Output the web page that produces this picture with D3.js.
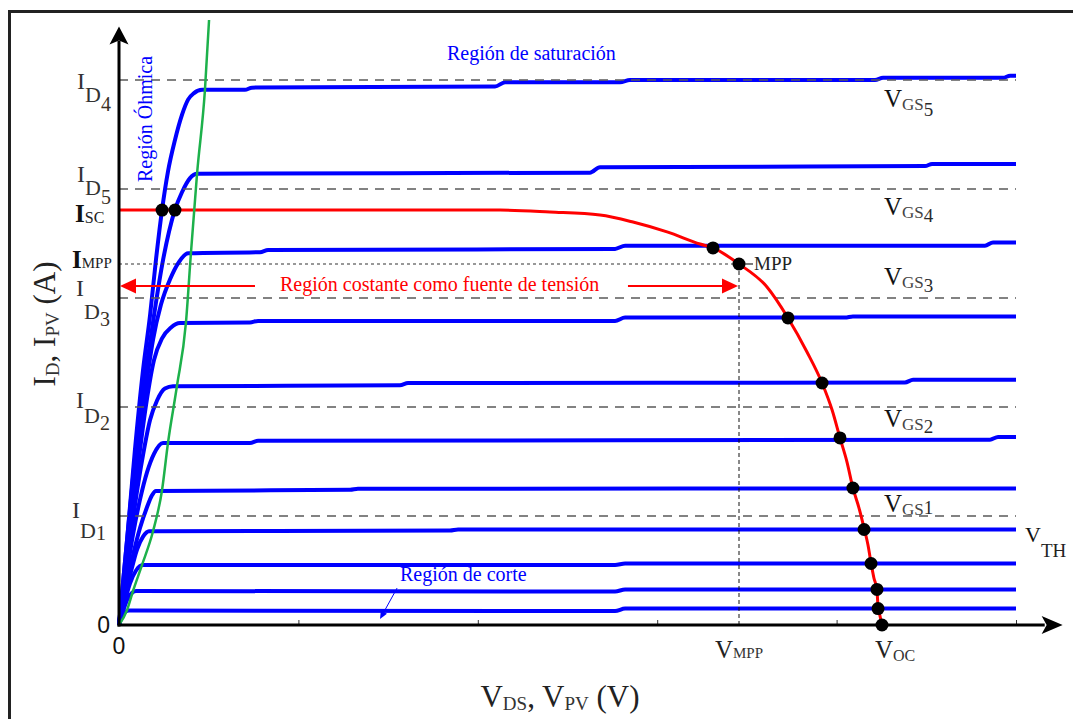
<!DOCTYPE html>
<meta charset="utf-8">
<script src="https://d3js.org/d3.v7.min.js"></script>
<style>body { margin: 0; background: #fff; }</style>
<div id="my_dataviz"></div>
<script>

// ---- data (V in axis units, I in units of the I_D spacing) ----
var xTicks = [1, 2, 3, 4, 5];
var idLevels = [1, 2, 3, 4, 5];
var idSubs = ["1", "2", "3", "5", "4"];
var vgsNames = ["5", "4", "3", "2", "1"];
var vgsLabelI = [4.75, 3.76, 3.12, 1.82, 1.04];

var iSc = 3.807, iMpp = 3.312, vMpp = 3.456, vOc = 4.253;

// MOSFET output curves, one per V_GS step
var outputCurves = [
  [[0,0],[0.045,0.78],[0.089,1.61],[0.134,2.34],[0.173,2.84],[0.206,3.35],[0.240,3.81],[0.273,4.16],[0.312,4.45],[0.351,4.68],[0.385,4.82],[0.418,4.88],[0.463,4.91],[0.702,4.91],[0.741,4.93],[2.096,4.94],[2.152,4.98],[2.793,4.98],[2.848,5.00],[4.214,5.00],[4.259,5.02],[4.928,5.02],[4.967,5.04],[5,5.04]],
  [[0,0],[0.050,0.87],[0.100,1.70],[0.151,2.34],[0.195,2.84],[0.240,3.30],[0.279,3.61],[0.312,3.81],[0.351,3.97],[0.396,4.10],[0.435,4.14],[2.625,4.15],[2.681,4.20],[4.493,4.21],[4.532,4.23],[5,4.23]],
  [[0,0],[0.050,0.73],[0.100,1.47],[0.145,2.11],[0.190,2.62],[0.234,2.94],[0.284,3.17],[0.334,3.33],[0.385,3.41],[0.786,3.42],[0.831,3.44],[2.765,3.45],[2.821,3.48],[4.827,3.48],[4.872,3.51],[5,3.51]],
  [[0,0],[0.050,0.69],[0.100,1.38],[0.151,2.02],[0.195,2.43],[0.240,2.63],[0.290,2.73],[0.340,2.77],[0.730,2.775],[0.775,2.79],[2.765,2.79],[2.821,2.82],[4.047,2.82],[4.091,2.83],[5,2.83]],
  [[0,0],[0.045,0.55],[0.089,1.10],[0.134,1.56],[0.173,1.88],[0.212,2.06],[0.256,2.17],[0.301,2.19],[1.566,2.20],[1.611,2.22],[4.381,2.225],[4.426,2.25],[5,2.25]],
  [[0,0],[0.039,0.43],[0.078,0.83],[0.117,1.15],[0.156,1.40],[0.195,1.57],[0.245,1.67],[0.730,1.67],[0.775,1.69],[4.855,1.70],[4.900,1.725],[5,1.725]],
  [[0,0],[0.039,0.34],[0.078,0.64],[0.117,0.89],[0.156,1.08],[0.184,1.19],[0.206,1.23],[1.288,1.24],[1.332,1.25],[5,1.252]],
  [[0,0],[0.033,0.25],[0.067,0.49],[0.100,0.69],[0.134,0.81],[0.167,0.86],[1.845,0.867],[1.890,0.876],[5,0.876]],
  [[0,0],[0.028,0.19],[0.061,0.38],[0.095,0.50],[0.134,0.55],[2.765,0.55],[2.821,0.564],[5,0.564]],
  [[0,0],[0.028,0.156],[0.050,0.248],[0.072,0.294],[0.095,0.312],[2.765,0.307],[2.821,0.326],[5,0.326]],
  [[0,0],[0.017,0.083],[0.033,0.119],[0.056,0.133],[2.765,0.128],[2.821,0.151],[5,0.151]]
];

// PV panel I-V curve
var pvCurve = [[0,3.807],[2.124,3.807],[2.402,3.789],[2.681,3.761],[2.865,3.697],[3.055,3.606],[3.239,3.495],[3.311,3.459],[3.456,3.312],[3.612,3.101],[3.729,2.817],[3.835,2.505],[3.919,2.220],[3.975,1.972],[4.019,1.716],[4.058,1.495],[4.091,1.257],[4.125,1.073],[4.153,0.890],[4.175,0.734],[4.192,0.569],[4.208,0.431],[4.225,0.321],[4.231,0.165],[4.242,0.083],[4.253,0]];

// operating points (PV curve crossing the output curves)
var opPoints = [[0.240,3.807],[0.312,3.807],[3.311,3.459],[3.456,3.312],[3.729,2.817],[3.919,2.220],[4.019,1.716],[4.091,1.257],[4.153,0.876],[4.192,0.564],[4.225,0.326],[4.231,0.151],[4.253,0]];

// ohmic / saturation border
var ohmicBorder = [[0,0],[0.045,0.138],[0.078,0.312],[0.128,0.550],[0.190,0.862],[0.240,1.239],[0.273,1.670],[0.323,2.193],[0.373,2.771],[0.401,3.413],[0.435,4.138],[0.479,4.908],[0.502,5.55]];

// ---- setup ----
var W = 1073, H = 719;
var serif = "'Liberation Serif','Times New Roman',serif";

var svg = d3.select("#my_dataviz")
  .append("svg")
    .attr("width", W)
    .attr("height", H);

var x = d3.scaleLinear().domain([0, 5]).range([119, 1016]);
var y = d3.scaleLinear().domain([0, 5]).range([625, 80]);

var line = d3.line()
  .x(function(d) { return x(d[0]); })
  .y(function(d) { return y(d[1]); })
  .curve(d3.curveMonotoneX);

// outer frame
svg.append("rect")
  .attr("x", 9.5).attr("y", 11.5)
  .attr("width", 1100).attr("height", 800)
  .attr("fill", "none")
  .attr("stroke", "#222")
  .attr("stroke-width", 3);

// text with sub / sub-sub scripts
function subLabel(parent, px, py, parts, anchor) {
  var t = parent.append("text")
    .attr("x", px).attr("y", py)
    .style("font-family", serif)
    .style("text-anchor", anchor || "start");
  var last = 0;
  parts.forEach(function(p) {
    var off = p.dy || 0;
    t.append("tspan")
      .attr("dy", off - last)
      .style("font-size", p.size + "px")
      .style("font-weight", p.bold ? "bold" : "normal")
      .attr("fill", p.color || "#222")
      .text(p.text);
    last = off;
  });
  return t;
}

function arrow(x1, y1, x2, y2, color, width, len, half) {
  var a = Math.atan2(y2 - y1, x2 - x1);
  var bx = x2 - len * Math.cos(a), by = y2 - len * Math.sin(a);
  svg.append("line")
    .attr("x1", x1).attr("y1", y1).attr("x2", bx).attr("y2", by)
    .attr("stroke", color).attr("stroke-width", width);
  var px = -Math.sin(a) * half, py = Math.cos(a) * half;
  svg.append("path")
    .attr("d", "M" + x2 + "," + y2 + "L" + (bx + px) + "," + (by + py) + "L" + (bx - px) + "," + (by - py) + "Z")
    .attr("fill", color);
}

// ---- curves ----
svg.selectAll(".outcurve")
  .data(outputCurves)
  .enter()
  .append("path")
    .attr("class", "outcurve")
    .attr("fill", "none")
    .attr("stroke", "#0000ff")
    .attr("stroke-width", 4)
    .attr("stroke-linejoin", "round")
    .attr("d", line);

// dashed current levels
svg.selectAll(".idline")
  .data(idLevels)
  .enter()
  .append("line")
    .attr("x1", x(0)).attr("x2", x(5))
    .attr("y1", function(d) { return y(d); })
    .attr("y2", function(d) { return y(d); })
    .attr("stroke", "#5a5a5a")
    .attr("stroke-width", 1.3)
    .style("stroke-dasharray", "9,7");

// MPP guides
svg.append("line")
  .attr("x1", x(0)).attr("x2", x(vMpp))
  .attr("y1", y(iMpp)).attr("y2", y(iMpp))
  .attr("stroke", "#333").attr("stroke-width", 1.1)
  .style("stroke-dasharray", "3,3");
svg.append("line")
  .attr("x1", x(vMpp)).attr("x2", x(vMpp))
  .attr("y1", y(iMpp)).attr("y2", y(0))
  .attr("stroke", "#111").attr("stroke-width", 1)
  .style("stroke-dasharray", "4,3");

// PV curve
svg.append("path")
  .datum(pvCurve)
  .attr("fill", "none")
  .attr("stroke", "#ff0000")
  .attr("stroke-width", 3)
  .attr("d", line);

// ohmic border
svg.append("path")
  .datum(ohmicBorder)
  .attr("fill", "none")
  .attr("stroke", "#1db14b")
  .attr("stroke-width", 2.5)
  .attr("d", line);

// ---- axes ----
svg.append("g")
  .attr("transform", "translate(0," + y(0) + ")")
  .call(d3.axisBottom(x).tickValues(xTicks).tickSize(-5).tickFormat(""))
  .call(function(g) { g.select(".domain").remove(); })
  .selectAll("line").attr("stroke", "#333");

svg.append("line")
  .attr("x1", x(0) - 1.5).attr("x2", x(5.16))
  .attr("y1", y(0)).attr("y2", y(0))
  .attr("stroke", "#000").attr("stroke-width", 3);
svg.append("path")
  .attr("d", "M" + x(5.26) + "," + y(0) + "L" + (x(5.26) - 21) + "," + (y(0) - 9) + "L" + (x(5.26) - 16) + "," + y(0) + "L" + (x(5.26) - 21) + "," + (y(0) + 9) + "Z")
  .attr("fill", "#000");

svg.append("line")
  .attr("x1", x(0)).attr("x2", x(0))
  .attr("y1", y(0) + 1.5).attr("y2", y(5.36))
  .attr("stroke", "#000").attr("stroke-width", 3);
svg.append("path")
  .attr("d", "M" + x(0) + "," + y(5.49) + "L" + (x(0) + 9.5) + "," + (y(5.49) + 18) + "L" + x(0) + "," + (y(5.49) + 14) + "L" + (x(0) - 9.5) + "," + (y(5.49) + 18) + "Z")
  .attr("fill", "#000");

// operating points
svg.selectAll(".op")
  .data(opPoints)
  .enter()
  .append("circle")
    .attr("cx", function(d) { return x(d[0]); })
    .attr("cy", function(d) { return y(d[1]); })
    .attr("r", 6.5)
    .attr("fill", "#000");

// ---- region annotations ----
arrow(x(0.758), y(3.11), x(0) + 1, y(3.11), "#ff0000", 1.8, 16, 7.5);
arrow(x(2.837), y(3.11), x(vMpp) - 1, y(3.11), "#ff0000", 1.8, 16, 7.5);
svg.append("text")
  .attr("x", 280).attr("y", y(3.11) + 5)
  .style("font-family", serif).style("font-size", "20px")
  .attr("fill", "#ff0000")
  .text("Región costante como fuente de tensión");

svg.append("text")
  .attr("x", 447).attr("y", 60)
  .style("font-family", serif).style("font-size", "20px")
  .attr("fill", "#0000ff")
  .text("Región de saturación");

svg.append("text")
  .attr("transform", "translate(152,182) rotate(-90)")
  .style("font-family", serif).style("font-size", "20px")
  .attr("fill", "#0000ff")
  .text("Región Óhmica");

svg.append("text")
  .attr("x", 400).attr("y", 581)
  .style("font-family", serif).style("font-size", "20px")
  .attr("fill", "#0000ff")
  .text("Región de corte");
arrow(x(1.55), y(0.339), x(1.455), y(0.055), "#0000ff", 1, 8, 3.5);

// MPP tag
svg.append("line")
  .attr("x1", x(vMpp) + 6).attr("x2", x(vMpp) + 14)
  .attr("y1", y(iMpp)).attr("y2", y(iMpp))
  .attr("stroke", "#222").attr("stroke-width", 1.2);
svg.append("text")
  .attr("x", x(vMpp) + 15).attr("y", y(iMpp) + 6)
  .style("font-family", serif).style("font-size", "19px")
  .attr("fill", "#222")
  .text("MPP");

// ---- axis labels ----
var idLabelPos = [
  {x: 72, i: 2, d: 22, n: 24},
  {x: 76, i: 1, d: 16, n: 23},
  {x: 76, i: -2, d: 21, n: 28},
  {x: 77, i: -7, d: 6, n: 15},
  {x: 77, i: 9, d: 22, n: 31}
];
idLevels.forEach(function(lv, k) {
  var p = idLabelPos[k], b = y(lv) + p.i;
  subLabel(svg, p.x, b, [
    {text: "I", size: 24, dy: 0, color: "#333"},
    {text: "D", size: 22, dy: p.d - p.i, color: "#333"},
    {text: idSubs[k], size: 20, dy: p.n - p.i, color: "#3a2f25"}
  ]);
});

subLabel(svg, 75, y(iSc) + 12, [
  {text: "I", size: 25, bold: true, color: "#111"},
  {text: "SC", size: 16, dy: 1, color: "#222"}
]);
subLabel(svg, 72, y(iMpp) + 4, [
  {text: "I", size: 25, bold: true, color: "#111"},
  {text: "MPP", size: 15, dy: 0, color: "#222"}
]);

svg.append("text")
  .attr("x", 110).attr("y", 633)
  .style("font-family", "'Liberation Sans',Arial,sans-serif").style("font-size", "23px")
  .style("text-anchor", "end").attr("fill", "#111")
  .text("0");
svg.append("text")
  .attr("x", x(0)).attr("y", 654)
  .style("font-family", "'Liberation Sans',Arial,sans-serif").style("font-size", "23px")
  .style("text-anchor", "middle").attr("fill", "#111")
  .text("0");

subLabel(svg, x(vMpp), 658, [
  {text: "V", size: 25},
  {text: "MPP", size: 15, dy: 0, color: "#333"}
], "middle");
subLabel(svg, x(vOc) - 7, 658, [
  {text: "V", size: 25},
  {text: "OC", size: 16, dy: 3, color: "#333"}
]);

var vgsDigitDrop = [9, 7, 7, 6, 2];
vgsNames.forEach(function(nm, k) {
  subLabel(svg, x(vOc) + 2, y(vgsLabelI[k]), [
    {text: "V", size: 25, color: "#111"},
    {text: "GS", size: 17, dy: 3, color: "#444"},
    {text: nm, size: 19, dy: vgsDigitDrop[k], color: "#2a2a2a"}
  ]);
});

subLabel(svg, 1025, 542, [
  {text: "V", size: 22, color: "#111"},
  {text: "TH", size: 19, dy: 15, color: "#222"}
]);

// axis titles
subLabel(svg, 560, 707, [
  {text: "V", size: 31},
  {text: "DS", size: 19, dy: 3, color: "#333"},
  {text: ", V", size: 31, dy: 0},
  {text: "PV", size: 19, dy: 3, color: "#333"},
  {text: " (V)", size: 31, dy: 0}
], "middle");

var yt = svg.append("g").attr("transform", "translate(55,324) rotate(-90)");
subLabel(yt, 0, 0, [
  {text: "I", size: 31},
  {text: "D", size: 19, dy: 4, color: "#333"},
  {text: ", I", size: 31, dy: 0},
  {text: "PV", size: 19, dy: 4, color: "#333"},
  {text: " (A)", size: 31, dy: 0}
], "middle");

</script>
